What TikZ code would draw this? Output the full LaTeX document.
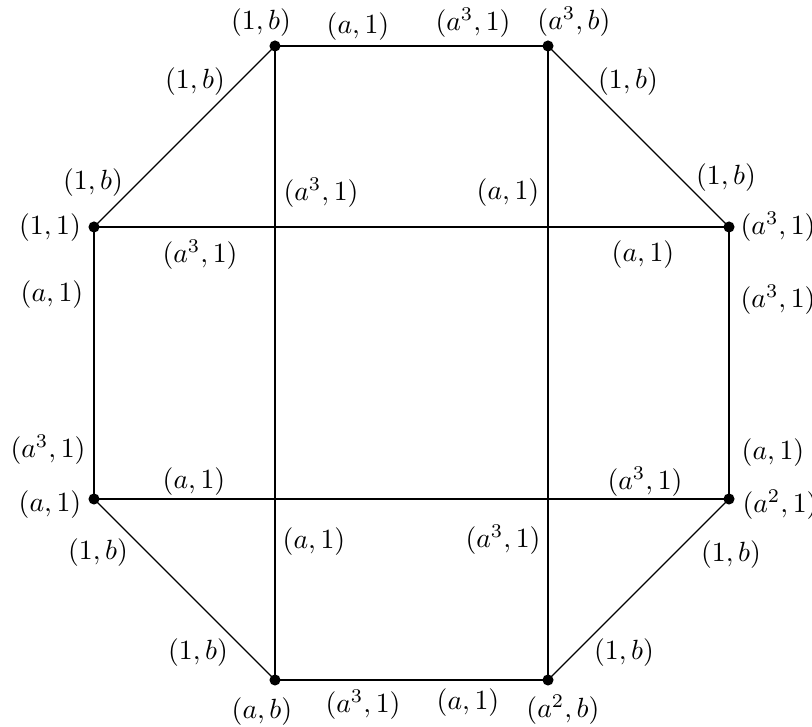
\documentclass[tikz,border=0pt]{standalone}
\begin{document}
\begin{tikzpicture}[x=0.36pt,y=-0.36pt,
  vtx/.style={circle,fill=black,inner sep=0pt,minimum size=4pt},
  lab/.style={inner sep=0pt,anchor=center},
  edge/.style={line width=0.4pt}]
\useasboundingbox (0,0) rectangle (812,727);
\clip (0,0) rectangle (812,727);
% vertices
\node[vtx] (v1b)  at (275,46)  {};
\node[vtx] (va3b) at (548,46)  {};
\node[vtx] (v11)  at (94,227)  {};
\node[vtx] (va31) at (729,227) {};
\node[vtx] (va1)  at (94,499)  {};
\node[vtx] (va21) at (729,499) {};
\node[vtx] (vab)  at (275,680) {};
\node[vtx] (va2b) at (548,680) {};
% edges
\draw[edge] (v1b.center) -- (va3b.center);
\draw[edge] (va3b.center) -- (va31.center);
\draw[edge] (va31.center) -- (va21.center);
\draw[edge] (va21.center) -- (va2b.center);
\draw[edge] (va2b.center) -- (vab.center);
\draw[edge] (vab.center) -- (va1.center);
\draw[edge] (va1.center) -- (v11.center);
\draw[edge] (v11.center) -- (v1b.center);
\draw[edge] (v11.center) -- (va31.center);
\draw[edge] (va1.center) -- (va21.center);
\draw[edge] (v1b.center) -- (vab.center);
\draw[edge] (va3b.center) -- (va2b.center);
% labels
\node[lab] (l1) at (261,23) {$(1,b)$};
\node[lab] (l2) at (358,27) {$(a,1)$};
\node[lab] (l3) at (473,23) {$(a^3,1)$};
\node[lab] (l4) at (574,22) {$(a^3,b)$};
\node[lab] (l5) at (195,82) {$(1,b)$};
\node[lab] (l6) at (628,82) {$(1,b)$};
\node[lab] (l7) at (93,183) {$(1,b)$};
\node[lab] (l8) at (321,193) {$(a^3,1)$};
\node[lab] (l9) at (508,193) {$(a,1)$};
\node[lab] (l10) at (726,178) {$(1,b)$};
\node[lab] (l11) at (50,228) {$(1,1)$};
\node[lab] (l12) at (778,227) {$(a^3,1)$};
\node[lab] (l13) at (200,255) {$(a^3,1)$};
\node[lab] (l14) at (643,255) {$(a,1)$};
\node[lab] (l15) at (52,295) {$(a,1)$};
\node[lab] (l16) at (778,300) {$(a^3,1)$};
\node[lab] (l17) at (48,450) {$(a^3,1)$};
\node[lab] (l18) at (773,453) {$(a,1)$};
\node[lab] (l19) at (194,482) {$(a,1)$};
\node[lab] (l20) at (645,482) {$(a^3,1)$};
\node[lab] (l21) at (50,505) {$(a,1)$};
\node[lab] (l22) at (780,505) {$(a^2,1)$};
\node[lab] (l23) at (314,542) {$(a,1)$};
\node[lab] (l24) at (503,540) {$(a^3,1)$};
\node[lab] (l25) at (98,553) {$(1,b)$};
\node[lab] (l26) at (731,555) {$(1,b)$};
\node[lab] (l27) at (198,653) {$(1,b)$};
\node[lab] (l28) at (624,653) {$(1,b)$};
\node[lab] (l29) at (262,712) {$(a,b)$};
\node[lab] (l30) at (363,705) {$(a^3,1)$};
\node[lab] (l31) at (468,703) {$(a,1)$};
\node[lab] (l32) at (563,710) {$(a^2,b)$};
\end{tikzpicture}
\end{document}
